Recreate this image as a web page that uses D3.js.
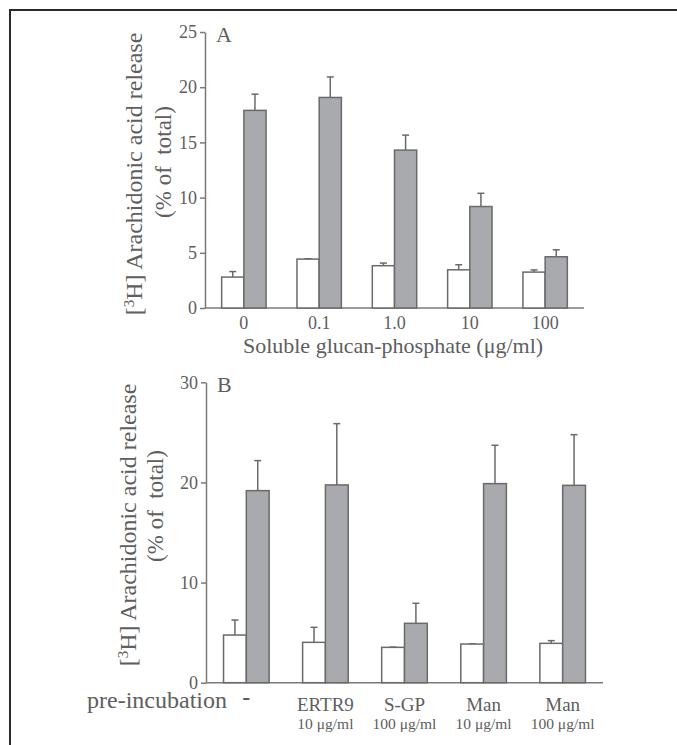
<!DOCTYPE html>
<html><head><meta charset="utf-8">
<script src="https://cdn.jsdelivr.net/npm/d3@7"></script>
<style>body{margin:0;background:#fff}svg{display:block}text{font-family:"Liberation Serif","DejaVu Serif",serif;fill:#5e5e5e}</style>
</head><body>
<script>
// Panel A data
const catsA = ["0","0.1","1.0","10","100"];
const whiteA = [2.8, 4.43, 3.83, 3.46, 3.25];
const whiteErrA = [0.5, 0.03, 0.24, 0.46, 0.2];
const grayA = [17.9, 19.07, 14.3, 9.19, 4.64];
const grayErrA = [1.47, 1.86, 1.36, 1.2, 0.63];
const ticksA = [0,5,10,15,20,25];
// Panel B data
const catsB = ["-","ERTR9","S-GP","Man","Man"];
const subB = ["","10 μg/ml","100 μg/ml","10 μg/ml","100 μg/ml"];
const whiteB = [4.76, 4.03, 3.53, 3.86, 3.93];
const whiteErrB = [1.5, 1.5, 0.03, 0.02, 0.27];
const grayB = [19.18, 19.75, 5.93, 19.88, 19.71];
const grayErrB = [3.0, 6.12, 2.0, 3.83, 5.06];
const ticksB = [0,10,20,30];

const W=677,H=745;
const svg=d3.select("body").append("svg").attr("width",W).attr("height",H);
// frame
svg.append("path").attr("d","M10,745 L10,10 L677,10").attr("fill","none").attr("stroke","#2a2a2a").attr("stroke-width",2);

const axisCol="#7a7a7a", barStroke="#6a6a6a", grayFill="#a9aaae";

function panel(o){
  const g=svg.append("g");
  const x=d3.scalePoint().domain(d3.range(o.cats.length)).range([o.x0,o.x1]).padding(o.pad);
  const y=d3.scaleLinear().domain([0,o.max]).range([o.y0,o.y1]);
  const sub=d3.scaleBand().domain(["w","g"]).range([-o.bw,o.bw]).padding(0);
  const ya=d3.axisLeft(y).tickValues(o.ticks).tickSize(5).tickSizeOuter(0);
  const ag=g.append("g").attr("transform",`translate(${o.x0},0)`).call(ya);
  ag.select(".domain").attr("stroke",axisCol).attr("stroke-width",1.5);
  ag.selectAll(".tick line").attr("stroke",axisCol).attr("stroke-width",1.5);
  ag.selectAll(".tick text").attr("font-size",18).attr("x",-8).attr("fill","#5e5e5e").attr("font-family","Liberation Serif");
  g.append("line").attr("x1",o.x0).attr("x2",o.x1).attr("y1",o.y0).attr("y2",o.y0).attr("stroke",axisCol).attr("stroke-width",1.5);
  const series=[{k:"w",v:o.white,e:o.whiteErr,fill:"#fff"},{k:"g",v:o.gray,e:o.grayErr,fill:grayFill}];
  series.forEach(s=>{
    s.v.forEach((v,i)=>{
      const bx=x(i)+sub(s.k), bw=sub.bandwidth(), cx=bx+bw/2;
      const top=y(v+s.e[i]);
      g.append("line").attr("x1",cx).attr("x2",cx).attr("y1",y(v)).attr("y2",top).attr("stroke",barStroke).attr("stroke-width",1.5);
      g.append("line").attr("x1",cx-3.5).attr("x2",cx+3.5).attr("y1",top).attr("y2",top).attr("stroke",barStroke).attr("stroke-width",1.5);
      g.append("rect").attr("x",bx).attr("y",y(v)).attr("width",bw).attr("height",o.y0-y(v)).attr("fill",s.fill).attr("stroke",barStroke).attr("stroke-width",1.5);
    });
  });
  g.append("text").attr("x",o.x0+11).attr("y",y(o.max)+10).attr("font-size",22).text(o.letter);
  // y label, two lines
  const l1=g.append("text").attr("transform",`translate(${o.lx1},${o.ly1}) rotate(-90)`).attr("text-anchor","middle").attr("font-size",24);
  l1.append("tspan").text("[");
  l1.append("tspan").attr("font-size",15).attr("dy",-8).text("3");
  l1.append("tspan").attr("dy",8).text("H] Arachidonic acid release");
  g.append("text").attr("transform",`translate(${o.lx2},${o.ly2}) rotate(-90)`).attr("text-anchor","middle").attr("font-size",23)
    .attr("xml:space","preserve").style("white-space","pre").text("(% of  total)");
  return {g,x,y};
}

const A=panel({cats:catsA,white:whiteA,whiteErr:whiteErrA,gray:grayA,grayErr:grayErrA,ticks:ticksA,max:25,
  x0:205,x1:584,pad:0.516,y0:308,y1:32,bw:22.2,letter:"A",lx1:142,ly1:174,lx2:171,ly2:162});
A.g.selectAll(".xl").data(catsA).enter().append("text").attr("x",(d,i)=>A.x(i)).attr("y",329)
  .attr("text-anchor","middle").attr("font-size",18).text(d=>d);
A.g.append("text").attr("x",393).attr("y",353).attr("text-anchor","middle").attr("font-size",22).text("Soluble glucan-phosphate (μg/ml)");

const B=panel({cats:catsB,white:whiteB,whiteErr:whiteErrB,gray:grayB,grayErr:grayErrB,ticks:ticksB,max:30,
  x0:206,x1:603,pad:0.51,y0:682.7,y1:382.3,bw:22.8,letter:"B",lx1:136,ly1:525,lx2:163,ly2:506});
B.g.selectAll(".xl").data(catsB).enter().append("text").attr("x",(d,i)=>B.x(i)).attr("y",(d,i)=>i===0?705:711)
  .attr("text-anchor","middle").attr("font-size",(d,i)=>i===0?24:19).attr("font-weight",(d,i)=>i===0?"bold":"normal").text(d=>d);
B.g.selectAll(".xs").data(subB).enter().append("text").attr("x",(d,i)=>B.x(i)).attr("y",729)
  .attr("text-anchor","middle").attr("font-size",15.5).text(d=>d);
B.g.append("text").attr("x",227).attr("y",708).attr("text-anchor","end").attr("font-size",24).text("pre-incubation");
</script>
</body></html>
